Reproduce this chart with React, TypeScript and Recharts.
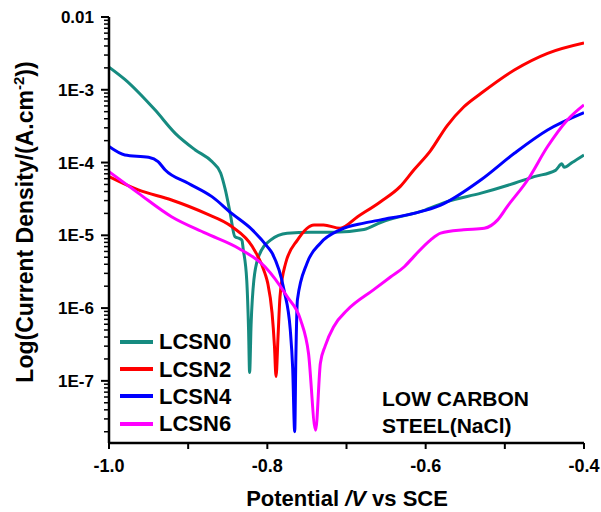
import { LineChart, Line, XAxis, YAxis, Legend } from 'recharts'

// Tafel curves: potential (V vs SCE) and current density (A/cm2)
const lcsn0Potential = [-1.0, -0.98, -0.942, -0.916, -0.891, -0.87, -0.859, -0.853, -0.847, -0.841, -0.834, -0.832, -0.8305, -0.826, -0.8237, -0.8224, -0.8205, -0.817, -0.811, -0.796, -0.775, -0.745, -0.716, -0.678, -0.657, -0.6, -0.573, -0.53, -0.488, -0.463, -0.436, -0.428, -0.425, -0.415, -0.4]
const lcsn0Current = [2.05e-3, 1.39e-3, 5.3e-4, 2.5e-4, 1.49e-4, 1.03e-4, 7.2e-5, 4.2e-5, 2.03e-5, 9.6e-6, 8.9e-6, 8.5e-6, 6.5e-6, 2.4e-6, 5e-7, 1.3e-7, 6e-7, 2.44e-6, 5.1e-6, 8.6e-6, 1.07e-5, 1.1e-5, 1.1e-5, 1.2e-5, 1.5e-5, 2.24e-5, 2.9e-5, 3.8e-5, 5.2e-5, 6.4e-5, 7.8e-5, 9.6e-5, 8.6e-5, 1.0e-4, 1.27e-4]

const lcsn2Potential = [-1.0, -0.963, -0.921, -0.878, -0.845, -0.819, -0.803, -0.7995, -0.794, -0.791, -0.789, -0.7865, -0.784, -0.777, -0.762, -0.741, -0.729, -0.708, -0.686, -0.657, -0.632, -0.615, -0.594, -0.573, -0.552, -0.53, -0.488, -0.446, -0.4]
const lcsn2Current = [6.4e-5, 4.2e-5, 3.06e-5, 2.0e-5, 1.32e-5, 7.0e-6, 3.0e-6, 2.2e-6, 8.5e-7, 3e-7, 1.15e-7, 4e-7, 1.44e-6, 4.1e-6, 8.6e-6, 1.39e-5, 1.39e-5, 1.25e-5, 1.8e-5, 2.9e-5, 4.7e-5, 7.9e-5, 1.45e-4, 3.2e-4, 5.8e-4, 8.95e-4, 1.87e-3, 3.17e-3, 4.4e-3]

const lcsn4Potential = [-1.0, -0.98, -0.95, -0.938, -0.929, -0.9, -0.87, -0.845, -0.819, -0.8, -0.794, -0.779, -0.771, -0.768, -0.7654, -0.764, -0.762, -0.75, -0.733, -0.708, -0.678, -0.657, -0.615, -0.581, -0.53, -0.488, -0.446, -0.4]
const lcsn4Current = [1.66e-4, 1.27e-4, 1.18e-4, 1.03e-4, 7.9e-5, 5.2e-5, 3.4e-5, 2.0e-5, 1.19e-5, 7.0e-6, 5.7e-6, 1.78e-6, 5.0e-7, 1.5e-7, 2.0e-8, 2e-7, 1.3e-6, 4.1e-6, 7.8e-6, 1.19e-5, 1.47e-5, 1.63e-5, 2.0e-5, 2.6e-5, 5.8e-5, 1.34e-4, 2.8e-4, 4.85e-4]

const lcsn6Potential = [-1.0, -0.963, -0.921, -0.878, -0.836, -0.803, -0.775, -0.758, -0.748, -0.739, -0.733, -0.727, -0.716, -0.699, -0.666, -0.644, -0.627, -0.615, -0.594, -0.581, -0.552, -0.526, -0.509, -0.497, -0.471, -0.446, -0.421, -0.4]
const lcsn6Current = [7.5e-5, 3.8e-5, 1.8e-5, 1.07e-5, 6.6e-6, 3.7e-6, 1.44e-6, 6.9e-7, 2.4e-7, 2.1e-8, 1.75e-7, 3.0e-7, 5.6e-7, 9.4e-7, 1.78e-6, 2.7e-6, 3.7e-6, 5.1e-6, 8.6e-6, 1.07e-5, 1.19e-5, 1.25e-5, 1.63e-5, 2.48e-5, 5.8e-5, 1.66e-4, 3.85e-4, 6.2e-4]

const seriesNames = ['LCSN0', 'LCSN2', 'LCSN4', 'LCSN6']
const seriesColors = ['#168b80', '#ff0000', '#0000ff', '#ff00ff']

const xDomain = [-1.0, -0.4]
const yDomain = [1.4e-8, 0.01]
const xTicks = [-1.0, -0.9, -0.8, -0.7, -0.6, -0.5, -0.4]
const yMajorTicks = [1e-7, 1e-6, 1e-5, 1e-4, 1e-3, 1e-2]

const minorTicks: number[] = []
for (let e = -8; e <= -3; e++) {
  for (let m = 2; m <= 9; m++) {
    const v = m * Math.pow(10, e)
    if (v >= yDomain[0]) minorTicks.push(v)
  }
}
const yTicks = [...yMajorTicks, ...minorTicks].sort((a, b) => a - b)

const toPoints = (pot: number[], cur: number[]) =>
  pot.map((p, k) => ({ potential: p, current: cur[k] }))

const seriesData = [
  toPoints(lcsn0Potential, lcsn0Current),
  toPoints(lcsn2Potential, lcsn2Current),
  toPoints(lcsn4Potential, lcsn4Current),
  toPoints(lcsn6Potential, lcsn6Current),
]

const FONT = '"Liberation Sans", Arial, sans-serif'

const isDecade = (v: number) => {
  const l = Math.log10(v)
  return Math.abs(l - Math.round(l)) < 1e-6
}

const YTick = (props: any) => {
  const { x, y, payload } = props
  const v = payload.value
  const major = isDecade(v)
  const exp = Math.round(Math.log10(v))
  const label = exp === -2 ? '0.01' : `1E${exp}`
  return (
    <g>
      <line x1={x - (major ? 8 : 5)} x2={x} y1={y} y2={y} stroke="#000" strokeWidth={major ? 2 : 1.5} />
      {major && (
        <text x={x - 15} y={y} dy="0.36em" textAnchor="end" fontFamily={FONT} fontWeight="bold" fontSize={17} fill="#000">
          {label}
        </text>
      )}
    </g>
  )
}

const XTick = (props: any) => {
  const { x, y, payload } = props
  const v = payload.value
  const major = Math.round(v * 10) % 2 === 0
  return (
    <g>
      <line x1={x} x2={x} y1={y} y2={y + 6} stroke="#000" strokeWidth={2} />
      {major && (
        <text x={x} y={y + 16} dy="0.71em" textAnchor="middle" fontFamily={FONT} fontWeight="bold" fontSize={18} fill="#000">
          {v.toFixed(1)}
        </text>
      )}
    </g>
  )
}

const YTitle = () => (
  <text transform="translate(33,222) rotate(-90)" textAnchor="middle" fontFamily={FONT} fontWeight="bold" fontSize={23} fill="#000">
    Log(Current Density/(A.cm<tspan dy={-9} fontSize={15}>-2</tspan><tspan dy={9}>))</tspan>
  </text>
)

const XTitle = () => (
  <text x={347} y={506} textAnchor="middle" fontFamily={FONT} fontWeight="bold" fontSize={22} fill="#000">
    Potential <tspan fontStyle="italic">/V</tspan> vs SCE
  </text>
)

const LegendBox = (props: any) => {
  const { payload } = props
  return (
    <div style={{ fontFamily: FONT, fontWeight: 'bold', fontSize: 22 }}>
      {(payload || []).map((p: any) => (
        <div key={p.value} style={{ display: 'flex', alignItems: 'center', height: 27.4 }}>
          <div style={{ width: 33, height: 4, background: p.color, marginRight: 6 }} />
          <span style={{ color: '#000', lineHeight: '27px' }}>{p.value}</span>
        </div>
      ))}
    </div>
  )
}

export default function App() {
  return (
    <div style={{ position: 'absolute', left: 0, top: 0, width: 601, height: 512, background: '#fff' }}>
      <LineChart width={601} height={512} margin={{ top: 17, right: 17, left: 0, bottom: 0 }}>
        <XAxis
          type="number"
          dataKey="potential"
          domain={xDomain}
          ticks={xTicks}
          allowDataOverflow
          height={69}
          tickSize={0}
          tickMargin={0}
          tickLine={false}
          axisLine={{ stroke: '#000', strokeWidth: 2.5 }}
          tick={<XTick />}
          label={<XTitle />}
          interval={0}
        />
        <XAxis xAxisId="top" orientation="top" type="number" domain={xDomain} height={0} tick={false} tickLine={false} axisLine={{ stroke: '#000', strokeWidth: 2.5 }} />
        <YAxis
          type="number"
          dataKey="current"
          scale="log"
          domain={yDomain}
          ticks={yTicks}
          allowDataOverflow
          width={109}
          tickSize={0}
          tickMargin={0}
          tickLine={false}
          axisLine={{ stroke: '#000', strokeWidth: 2.5 }}
          tick={<YTick />}
          label={<YTitle />}
          interval={0}
        />
        <YAxis yAxisId="right" orientation="right" type="number" scale="log" domain={yDomain} width={0} tick={false} tickLine={false} axisLine={{ stroke: '#000', strokeWidth: 2.5 }} />
        <Legend
          layout="vertical"
          align="center"
          verticalAlign="middle"
          wrapperStyle={{ left: 120, top: 328, width: 130 }}
          content={<LegendBox />}
        />
        {seriesNames.map((name, i) => (
          <Line
            key={name}
            name={name}
            data={seriesData[i]}
            dataKey="current"
            type="monotoneX"
            stroke={seriesColors[i]}
            strokeWidth={3}
            dot={false}
            isAnimationActive={false}
          />
        ))}
      </LineChart>
      <div style={{ position: 'absolute', left: 382, top: 385, fontFamily: FONT, fontWeight: 'bold', fontSize: 21, lineHeight: '27px', color: '#000', whiteSpace: 'nowrap' }}>
        <div>LOW CARBON</div>
        <div>STEEL(NaCl)</div>
      </div>
    </div>
  )
}
